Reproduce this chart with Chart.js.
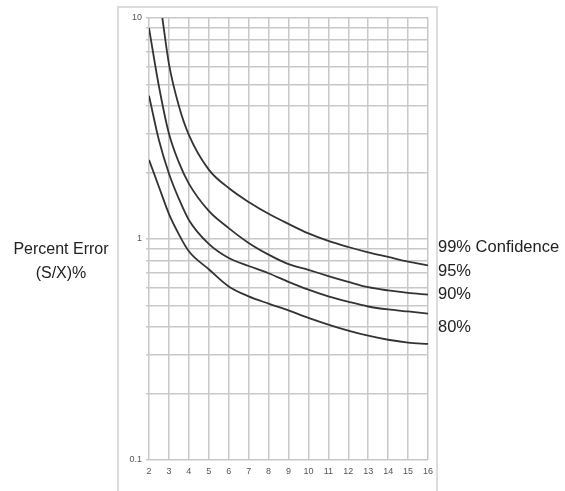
<!DOCTYPE html>
<html>
<head>
<meta charset="utf-8">
<script src="https://cdn.jsdelivr.net/npm/chart.js@4/dist/chart.umd.min.js"></script>
<style>
    body { margin: 0; background: #fff; }
    #wrap { position: relative; width: 565px; height: 491px; font-family: 'Liberation Sans', Arial, sans-serif; }
    #frame { position: absolute; left: 117px; top: 6px; width: 317px; height: 490px;
             border: 2px solid #dcdcdc; border-bottom: none; }
    canvas { position: absolute; left: 0; top: 0; }
    .lbl { position: absolute; font-size: 16.5px; color: #222; white-space: nowrap; line-height: 1; }
    #ytitle { position: absolute; left: 0; width: 122px; top: 237px; text-align: center;
              font-size: 16px; line-height: 23.5px; color: #222; }
</style>
</head>
<body>
<div id="wrap">
    <div id="frame"></div>
    <canvas id="chart" width="565" height="491"></canvas>
    <div id="ytitle">Percent Error<br>(S/X)%</div>
    <div class="lbl" style="left:438px; top:238px;">99% Confidence</div>
    <div class="lbl" style="left:438px; top:262px;">95%</div>
    <div class="lbl" style="left:438px; top:285px;">90%</div>
    <div class="lbl" style="left:438px; top:318px;">80%</div>
</div>
<script>
// ===== Percent error vs. sample count, log scale =====

// x values (number of samples)
const x99 = [2.67, 3, 3.5, 4, 5, 6, 7, 8, 9, 10, 11, 12, 13, 14, 15, 16];
const xCommon = [2, 2.5, 3, 3.5, 4, 5, 6, 7, 8, 9, 10, 11, 12, 13, 14, 15, 16];

// percent error per confidence level
const y99 = [10, 6.2, 4.0, 2.96, 2.06, 1.70, 1.47, 1.30, 1.17, 1.06, 0.98, 0.92, 0.87, 0.83, 0.79, 0.76];
const y95 = [9.0, 4.9, 3.0, 2.22, 1.78, 1.34, 1.12, 0.96, 0.85, 0.77, 0.725, 0.68, 0.64, 0.605, 0.585, 0.57, 0.56];
const y90 = [4.45, 2.8, 1.98, 1.52, 1.22, 0.95, 0.82, 0.755, 0.70, 0.64, 0.59, 0.55, 0.52, 0.495, 0.48, 0.47, 0.46];
const y80 = [2.28, 1.72, 1.3, 1.05, 0.88, 0.73, 0.61, 0.55, 0.51, 0.475, 0.44, 0.41, 0.385, 0.365, 0.35, 0.34, 0.335];

// gridlines on the log axis, and which of them get a label
const yGridValues = [0.1, 0.2, 0.3, 0.4, 0.5, 0.6, 0.7, 0.8, 0.9, 1, 2, 3, 4, 5, 6, 7, 8, 9, 10];
const yLabelValues = [0.1, 1, 10];

const FONT = "'Liberation Sans', Arial, sans-serif";

function toPoints(xs, ys) {
    return xs.map((x, i) => ({ x, y: ys[i] }));
}

function curve(label, xs, ys) {
    return {
        label,
        data: toPoints(xs, ys),
        borderColor: '#333333',
        borderWidth: 1.8,
        pointRadius: 0,
        fill: false,
        cubicInterpolationMode: 'monotone',
    };
}

new Chart(document.getElementById('chart'), {
    type: 'line',
    data: {
        datasets: [
            curve('99% Confidence', x99, y99),
            curve('95%', xCommon, y95),
            curve('90%', xCommon, y90),
            curve('80%', xCommon, y80),
        ],
    },
    options: {
        responsive: false,
        animation: false,
        layout: { padding: { left: 119, right: 137, top: 18, bottom: 9 } },
        plugins: { legend: { display: false }, tooltip: { enabled: false } },
        scales: {
            x: {
                type: 'linear',
                min: 2,
                max: 16,
                ticks: { stepSize: 1, color: '#555', padding: 6, font: { size: 9, family: FONT } },
                grid: { color: '#c8c8c8', lineWidth: 1.5, drawTicks: false },
                border: { display: false },
                afterFit: (scale) => { scale.height = 22; },
            },
            y: {
                type: 'logarithmic',
                min: 0.1,
                max: 10,
                afterBuildTicks: (scale) => {
                    scale.ticks = yGridValues.map(v => ({ value: v }));
                },
                ticks: {
                    color: '#555',
                    padding: 4,
                    font: { size: 9, family: FONT },
                    autoSkip: false,
                    callback: (v) => yLabelValues.includes(v) ? String(v) : '',
                },
                grid: { color: '#c8c8c8', lineWidth: 1.5, tickLength: 3 },
                border: { display: false },
                afterFit: (scale) => { scale.width = 30; },
            },
        },
    },
});
</script>
</body>
</html>
